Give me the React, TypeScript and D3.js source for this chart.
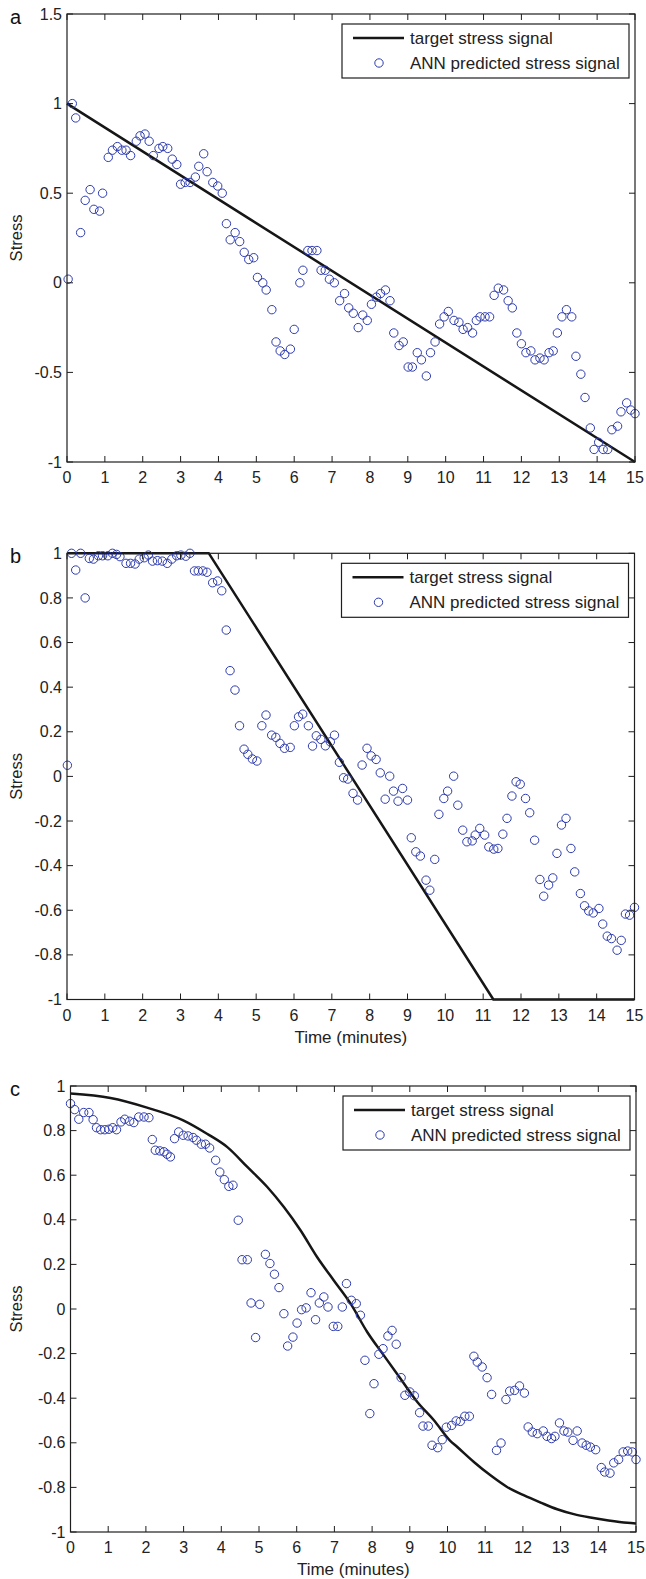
import * as d3 from "d3";

// ---- data ----
const xTicks = [0, 1, 2, 3, 4, 5, 6, 7, 8, 9, 10, 11, 12, 13, 14, 15];
const yTicksA = [-1, -0.5, 0, 0.5, 1, 1.5];
const yTicksBC = [-1, -0.8, -0.6, -0.4, -0.2, 0, 0.2, 0.4, 0.6, 0.8, 1];

// panel a
const timeA = [0.03, 0.14, 0.23, 0.36, 0.48, 0.61, 0.71, 0.86, 0.94, 1.09, 1.2, 1.33, 1.45, 1.56, 1.68, 1.83, 1.93, 2.06, 2.17, 2.28, 2.43, 2.53, 2.66, 2.78, 2.9, 3.0, 3.12, 3.25, 3.39, 3.48, 3.61, 3.7, 3.85, 3.98, 4.1, 4.21, 4.31, 4.44, 4.56, 4.68, 4.8, 4.93, 5.03, 5.17, 5.26, 5.41, 5.52, 5.63, 5.75, 5.9, 6.0, 6.15, 6.23, 6.36, 6.47, 6.6, 6.71, 6.82, 6.93, 7.06, 7.2, 7.33, 7.44, 7.56, 7.69, 7.81, 7.93, 8.04, 8.17, 8.28, 8.41, 8.53, 8.63, 8.77, 8.88, 9.01, 9.12, 9.25, 9.36, 9.49, 9.6, 9.72, 9.84, 9.96, 10.07, 10.22, 10.35, 10.46, 10.58, 10.71, 10.81, 10.91, 11.04, 11.16, 11.28, 11.39, 11.53, 11.65, 11.76, 11.88, 12.0, 12.12, 12.25, 12.36, 12.49, 12.6, 12.73, 12.84, 12.95, 13.07, 13.19, 13.33, 13.44, 13.57, 13.68, 13.82, 13.92, 14.04, 14.16, 14.28, 14.39, 14.54, 14.63, 14.78, 14.89, 15.0];
const predA = [0.02, 1.0, 0.92, 0.28, 0.46, 0.52, 0.41, 0.4, 0.5, 0.7, 0.74, 0.76, 0.74, 0.74, 0.71, 0.79, 0.82, 0.83, 0.79, 0.71, 0.75, 0.76, 0.75, 0.69, 0.66, 0.55, 0.56, 0.56, 0.59, 0.65, 0.72, 0.62, 0.56, 0.54, 0.5, 0.33, 0.24, 0.28, 0.23, 0.17, 0.13, 0.14, 0.03, 0.0, -0.04, -0.15, -0.33, -0.38, -0.4, -0.37, -0.26, 0.0, 0.07, 0.18, 0.18, 0.18, 0.07, 0.07, 0.02, 0.0, -0.1, -0.06, -0.14, -0.17, -0.25, -0.18, -0.21, -0.12, -0.08, -0.06, -0.04, -0.1, -0.28, -0.35, -0.33, -0.47, -0.47, -0.39, -0.43, -0.52, -0.39, -0.33, -0.23, -0.19, -0.16, -0.21, -0.22, -0.26, -0.25, -0.28, -0.21, -0.19, -0.19, -0.19, -0.07, -0.03, -0.04, -0.1, -0.14, -0.28, -0.34, -0.39, -0.38, -0.43, -0.42, -0.43, -0.39, -0.38, -0.28, -0.19, -0.15, -0.19, -0.41, -0.51, -0.64, -0.81, -0.93, -0.89, -0.93, -0.93, -0.82, -0.8, -0.72, -0.67, -0.71, -0.73];
const targetTimeA = [0, 4.84, 15];
const targetA = [1.0, 0.354, -1.0];

// panel b
const timeB = [0.01, 0.12, 0.23, 0.36, 0.48, 0.59, 0.7, 0.83, 0.94, 1.08, 1.2, 1.31, 1.4, 1.56, 1.68, 1.8, 1.91, 2.04, 2.15, 2.26, 2.39, 2.52, 2.65, 2.77, 2.9, 3.01, 3.14, 3.25, 3.37, 3.47, 3.59, 3.7, 3.85, 3.98, 4.09, 4.21, 4.31, 4.44, 4.56, 4.68, 4.78, 4.9, 5.02, 5.15, 5.26, 5.41, 5.52, 5.63, 5.75, 5.9, 6.01, 6.12, 6.23, 6.38, 6.49, 6.59, 6.71, 6.83, 6.96, 7.07, 7.2, 7.31, 7.42, 7.56, 7.68, 7.8, 7.93, 8.04, 8.17, 8.28, 8.41, 8.53, 8.63, 8.75, 8.87, 9.0, 9.1, 9.22, 9.34, 9.49, 9.59, 9.72, 9.83, 9.96, 10.06, 10.22, 10.33, 10.46, 10.57, 10.71, 10.79, 10.91, 11.04, 11.15, 11.28, 11.39, 11.52, 11.63, 11.76, 11.87, 11.98, 12.12, 12.23, 12.36, 12.5, 12.6, 12.73, 12.84, 12.95, 13.07, 13.19, 13.32, 13.42, 13.57, 13.68, 13.79, 13.91, 14.06, 14.16, 14.28, 14.39, 14.54, 14.65, 14.76, 14.87, 15.0];
const predB = [0.05, 1.0, 0.925, 1.0, 0.8, 0.977, 0.974, 0.989, 0.989, 0.989, 1.0, 0.995, 0.985, 0.955, 0.955, 0.952, 0.974, 0.98, 0.992, 0.965, 0.967, 0.965, 0.955, 0.974, 0.989, 0.992, 0.987, 1.0, 0.921, 0.921, 0.921, 0.915, 0.868, 0.876, 0.832, 0.656, 0.474, 0.387, 0.227, 0.122, 0.099, 0.078, 0.069, 0.227, 0.275, 0.185, 0.175, 0.148, 0.126, 0.13, 0.227, 0.267, 0.279, 0.227, 0.136, 0.182, 0.166, 0.137, 0.155, 0.185, 0.063, -0.006, -0.012, -0.076, -0.106, 0.051, 0.126, 0.092, 0.076, 0.016, -0.102, 0.001, -0.066, -0.111, -0.054, -0.106, -0.275, -0.338, -0.357, -0.465, -0.51, -0.372, -0.17, -0.099, -0.066, 0.001, -0.129, -0.241, -0.293, -0.289, -0.263, -0.233, -0.263, -0.316, -0.326, -0.323, -0.259, -0.188, -0.088, -0.024, -0.035, -0.099, -0.163, -0.286, -0.462, -0.537, -0.487, -0.455, -0.345, -0.218, -0.188, -0.323, -0.428, -0.525, -0.58, -0.603, -0.612, -0.592, -0.662, -0.716, -0.727, -0.779, -0.735, -0.617, -0.622, -0.587];
const targetTimeB = [0, 3.75, 11.27, 15];
const targetB = [1, 1, -1, -1];

// panel c
const timeC = [0.0, 0.11, 0.22, 0.35, 0.49, 0.6, 0.69, 0.8, 0.91, 1.02, 1.12, 1.22, 1.34, 1.44, 1.57, 1.68, 1.81, 1.95, 2.08, 2.17, 2.25, 2.37, 2.48, 2.56, 2.65, 2.76, 2.87, 2.99, 3.12, 3.25, 3.34, 3.47, 3.58, 3.69, 3.85, 3.96, 4.08, 4.2, 4.31, 4.45, 4.55, 4.69, 4.79, 4.91, 5.02, 5.17, 5.29, 5.41, 5.53, 5.66, 5.76, 5.9, 6.01, 6.13, 6.25, 6.38, 6.5, 6.6, 6.72, 6.83, 6.97, 7.09, 7.21, 7.32, 7.45, 7.58, 7.69, 7.81, 7.94, 8.05, 8.18, 8.29, 8.42, 8.53, 8.64, 8.77, 8.87, 9.0, 9.12, 9.26, 9.35, 9.49, 9.59, 9.74, 9.86, 9.97, 10.11, 10.23, 10.34, 10.46, 10.58, 10.7, 10.79, 10.92, 11.05, 11.17, 11.3, 11.42, 11.55, 11.65, 11.78, 11.91, 12.04, 12.14, 12.25, 12.38, 12.54, 12.64, 12.76, 12.85, 12.97, 13.09, 13.19, 13.33, 13.44, 13.57, 13.68, 13.79, 13.93, 14.08, 14.17, 14.31, 14.41, 14.54, 14.66, 14.78, 14.9, 15.0];
const predC = [0.921, 0.894, 0.851, 0.881, 0.881, 0.849, 0.813, 0.804, 0.804, 0.806, 0.813, 0.804, 0.839, 0.851, 0.842, 0.836, 0.861, 0.861, 0.858, 0.76, 0.712, 0.709, 0.705, 0.694, 0.682, 0.764, 0.794, 0.779, 0.776, 0.769, 0.757, 0.739, 0.739, 0.722, 0.667, 0.614, 0.58, 0.55, 0.555, 0.398, 0.221, 0.221, 0.027, -0.128, 0.021, 0.245, 0.204, 0.156, 0.096, -0.021, -0.166, -0.126, -0.063, -0.003, 0.005, 0.073, -0.048, 0.027, 0.054, 0.009, -0.078, -0.078, 0.009, 0.114, 0.039, 0.024, -0.028, -0.23, -0.469, -0.335, -0.203, -0.178, -0.121, -0.096, -0.158, -0.308, -0.387, -0.372, -0.389, -0.465, -0.525, -0.525, -0.611, -0.622, -0.586, -0.53, -0.522, -0.502, -0.504, -0.481, -0.481, -0.212, -0.238, -0.26, -0.308, -0.383, -0.634, -0.601, -0.406, -0.368, -0.365, -0.345, -0.377, -0.529, -0.552, -0.559, -0.547, -0.571, -0.581, -0.571, -0.511, -0.547, -0.552, -0.589, -0.547, -0.601, -0.611, -0.619, -0.631, -0.711, -0.731, -0.736, -0.69, -0.675, -0.641, -0.637, -0.641, -0.675];
const targetTimeC = [0, 1.06, 2.03, 2.99, 3.62, 4.16, 4.69, 5.22, 5.66, 6.1, 6.54, 6.98, 7.43, 7.87, 8.31, 8.75, 9.2, 9.64, 10.06, 10.26, 10.7, 11.14, 11.58, 12.02, 12.47, 12.91, 13.35, 13.79, 14.23, 14.77, 15];
const targetC = [0.966, 0.946, 0.903, 0.846, 0.786, 0.726, 0.637, 0.547, 0.457, 0.353, 0.233, 0.129, 0.024, -0.103, -0.208, -0.312, -0.417, -0.499, -0.589, -0.619, -0.686, -0.746, -0.798, -0.835, -0.868, -0.898, -0.92, -0.935, -0.947, -0.959, -0.962];

const FONT = "'Liberation Sans', Arial, Helvetica, sans-serif";
const AXIS = "#1e1e1e";
const MARKER = "#2e3cae";
const TICK_LEN = 6;

const Panel = ({ letter, left, right, top, bottom, yDomain, yTicks, times, preds, tTimes, targets, xLabel, smooth }) => {
  const x = d3.scaleLinear().domain([0, 15]).range([left, right]);
  const y = d3.scaleLinear().domain(yDomain).range([bottom, top]);
  const line = d3.line<number>()
    .x((d, i) => x(tTimes[i]))
    .y((d) => y(d))
    .curve(smooth ? d3.curveMonotoneX : d3.curveLinear);

  const legL = right - 293;
  const legT = top + 10;

  return (
    <g>
      <text x={10} y={top + 10} fontSize={20} fontFamily={FONT} fill="#111">{letter}</text>

      {/* target line */}
      <path d={line(targets) || ""} fill="none" stroke="#161616" strokeWidth={2.5} strokeLinejoin="round" />

      {/* ANN predictions */}
      {times.map((t, i) => (
        <circle key={i} cx={x(t)} cy={y(preds[i])} r={4.2} fill="none" stroke={MARKER} strokeWidth={1} />
      ))}

      {/* box */}
      <rect x={left} y={top} width={right - left} height={bottom - top} fill="none" stroke={AXIS} strokeWidth={1.2} />

      {xTicks.map((t) => (
        <g key={`x${t}`}>
          <line x1={x(t)} x2={x(t)} y1={bottom} y2={bottom - TICK_LEN} stroke={AXIS} />
          <line x1={x(t)} x2={x(t)} y1={top} y2={top + TICK_LEN} stroke={AXIS} />
          <text x={x(t)} y={bottom + 21} textAnchor="middle" fontSize={16} fontFamily={FONT} fill="#222">{t}</text>
        </g>
      ))}
      {yTicks.map((t) => (
        <g key={`y${t}`}>
          <line x1={left} x2={left + TICK_LEN} y1={y(t)} y2={y(t)} stroke={AXIS} />
          <line x1={right} x2={right - TICK_LEN} y1={y(t)} y2={y(t)} stroke={AXIS} />
          <text x={left - 5} y={y(t)} dy="0.35em" textAnchor="end" fontSize={16} fontFamily={FONT} fill="#222">{String(t)}</text>
        </g>
      ))}

      <text
        transform={`translate(16, ${(top + bottom) / 2}) rotate(-90)`}
        dy="0.35em"
        textAnchor="middle"
        fontSize={16.5}
        fontFamily={FONT}
        fill="#222"
      >
        Stress
      </text>
      {xLabel && (
        <text x={(left + right) / 2} y={bottom + 43} textAnchor="middle" fontSize={17} fontFamily={FONT} fill="#222">
          Time (minutes)
        </text>
      )}

      {/* legend */}
      <rect x={legL} y={legT} width={287} height={54} fill="white" stroke={AXIS} strokeWidth={1.2} />
      <line x1={legL + 11} x2={legL + 62} y1={legT + 14} y2={legT + 14} stroke="#161616" strokeWidth={2.5} />
      <text x={legL + 68} y={legT + 14} dy="0.35em" fontSize={17} fontFamily={FONT} fill="#222">target stress signal</text>
      <circle cx={legL + 37} cy={legT + 39} r={4.2} fill="none" stroke={MARKER} strokeWidth={1} />
      <text x={legL + 68} y={legT + 39} dy="0.35em" fontSize={17} fontFamily={FONT} fill="#222">ANN predicted stress signal</text>
    </g>
  );
};

export default function App() {
  return (
    <svg width={646} height={1579} style={{ position: "absolute", left: 0, top: 0, background: "white" }}>
      <Panel letter="a" left={67} right={635} top={14} bottom={462} yDomain={[-1, 1.5]} yTicks={yTicksA}
        times={timeA} preds={predA} tTimes={targetTimeA} targets={targetA} xLabel={false} smooth={false} />
      <Panel letter="b" left={67} right={634.5} top={553.3} bottom={999.5} yDomain={[-1, 1]} yTicks={yTicksBC}
        times={timeB} preds={predB} tTimes={targetTimeB} targets={targetB} xLabel={true} smooth={false} />
      <Panel letter="c" left={70.5} right={636} top={1086} bottom={1532} yDomain={[-1, 1]} yTicks={yTicksBC}
        times={timeC} preds={predC} tTimes={targetTimeC} targets={targetC} xLabel={true} smooth={true} />
    </svg>
  );
}
